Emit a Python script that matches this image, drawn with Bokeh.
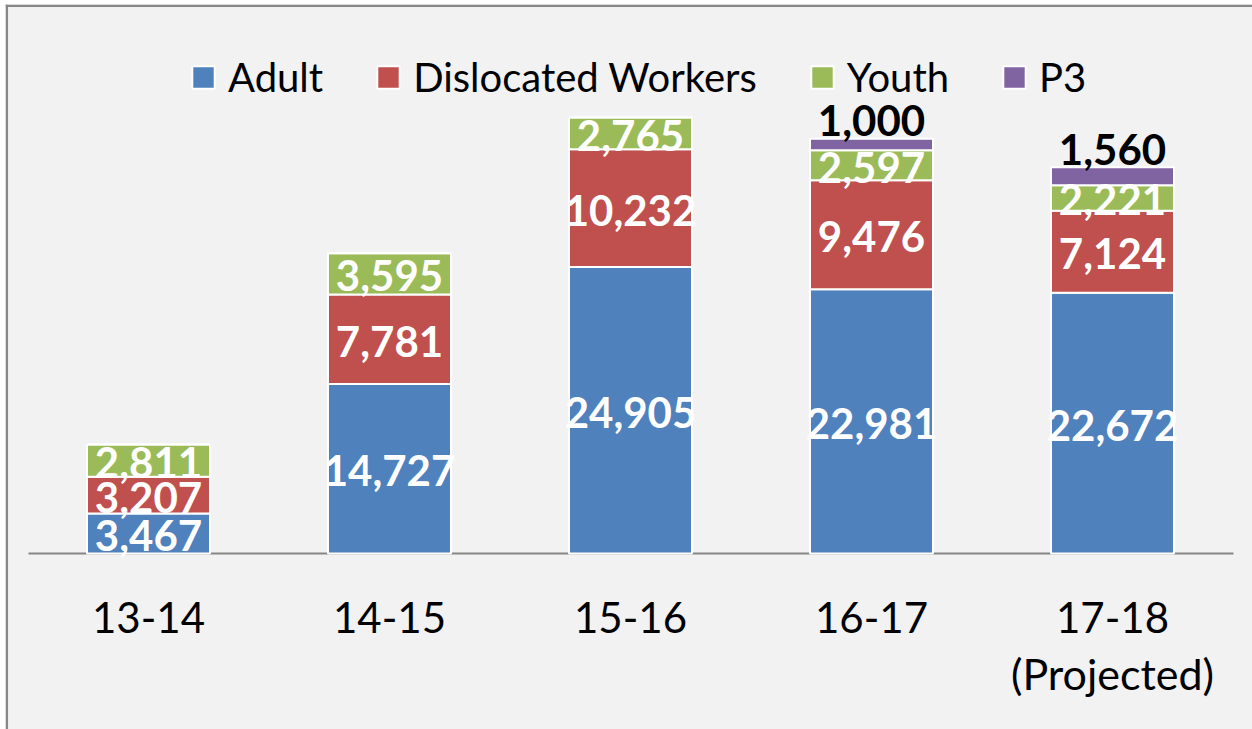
from bokeh.plotting import figure
from bokeh.models import ColumnDataSource, Range1d, Span
from bokeh.core.properties import value
from bokeh.embed import file_html
from bokeh.resources import INLINE

categories = ["13-14", "14-15", "15-16", "16-17", "17-18"]
category_notes = ["", "", "", "", "(Projected)"]
adult = [3467, 14727, 24905, 22981, 22672]
dislocated = [3207, 7781, 10232, 9476, 7124]
youth = [2811, 3595, 2765, 2597, 2221]
p3 = [0, 0, 0, 1000, 1560]

series = ["adult", "dislocated", "youth", "p3"]
names = ["Adult", "Dislocated Workers", "Youth", "P3"]
colors = ["#4F81BD", "#C0504D", "#9BBB59", "#8064A2"]

FONT = "Lato"
W, H = 1252, 729
LEFT, TOP = 5, 4
U = 37902 / 436.0          # data units per pixel
STEP = 241.0               # pixels per category
X0 = 148.0                 # pixel centre of first bar
BASE = 553.0               # pixel row of baseline


def px_x(px):
    return (px - X0) / STEP


def px_y(py):
    return (BASE - py) * U


xs = list(range(len(categories)))
src = ColumnDataSource(dict(x=xs, adult=adult, dislocated=dislocated, youth=youth, p3=p3))

p = figure(width=W, height=H, output_backend="svg", toolbar_location=None,
           x_range=Range1d(px_x(LEFT), px_x(W)),
           y_range=Range1d(px_y(H), px_y(TOP)),
           x_axis_location=None, y_axis_location=None,
           min_border=0, min_border_left=LEFT, min_border_right=0,
           min_border_top=TOP, min_border_bottom=0)
p.background_fill_color = "#F2F2F2"
p.border_fill_color = "white"
p.outline_line_color = None
p.xgrid.visible = False
p.ygrid.visible = False

# chart-area border (left and top edges visible)
p.add_layout(Span(location=px_x(6.3), dimension="height", line_color="#878787", line_width=2.5))
p.add_layout(Span(location=px_y(5.3), dimension="width", line_color="#878787", line_width=2.5))

# baseline
p.segment(x0=[px_x(28)], y0=[0], x1=[px_x(1233)], y1=[0], line_color="#868686", line_width=2)

p.vbar_stack(series, x="x", width=123 / STEP, source=src, fill_color=colors,
             line_color="white", line_width=2, legend_label=names)

# segment labels
lx, ly, lt = [], [], []
for i in xs:
    cum = 0
    for vals in (adult, dislocated, youth):
        v = vals[i]
        lx.append(i)
        ly.append(cum + v / 2.0 - 2 * U)
        lt.append(f"{v:,}")
        cum += v
p.text(x=lx, y=ly, text=lt, text_color="white", text_font=value(FONT),
       text_font_style="bold", text_font_size="42px", text_align="center",
       text_baseline="middle")

# P3 labels on top
tx, ty, tt = [], [], []
for i in xs:
    if p3[i] > 0:
        tot = adult[i] + dislocated[i] + youth[i] + p3[i]
        tx.append(i)
        ty.append(tot + 18 * U)
        tt.append(f"{p3[i]:,}")
p.text(x=tx, y=ty, text=tt, text_color="black", text_font=value(FONT),
       text_font_style="bold", text_font_size="42px", text_align="center",
       text_baseline="middle")

# category labels
p.text(x=xs, y=[-64 * U] * len(xs), text=categories, text_color="black",
       text_font=value(FONT), text_font_size="42px", text_align="center",
       text_baseline="middle")
p.text(x=xs, y=[-120 * U] * len(xs), text=category_notes, text_color="black",
       text_font=value(FONT), text_font_size="43px", text_align="center",
       text_baseline="middle")

lg = p.legend[0]
lg.orientation = "horizontal"
lg.location = (184, 628)
lg.padding = 0
lg.margin = 0
lg.spacing = 51
lg.label_standoff = 11
lg.glyph_width = 28
lg.glyph_height = 28
lg.border_line_color = None
lg.background_fill_alpha = 0
lg.label_text_font = FONT
lg.label_text_font_size = "40px"
lg.label_text_color = "black"

open("out.html", "w").write(file_html(p, INLINE))
